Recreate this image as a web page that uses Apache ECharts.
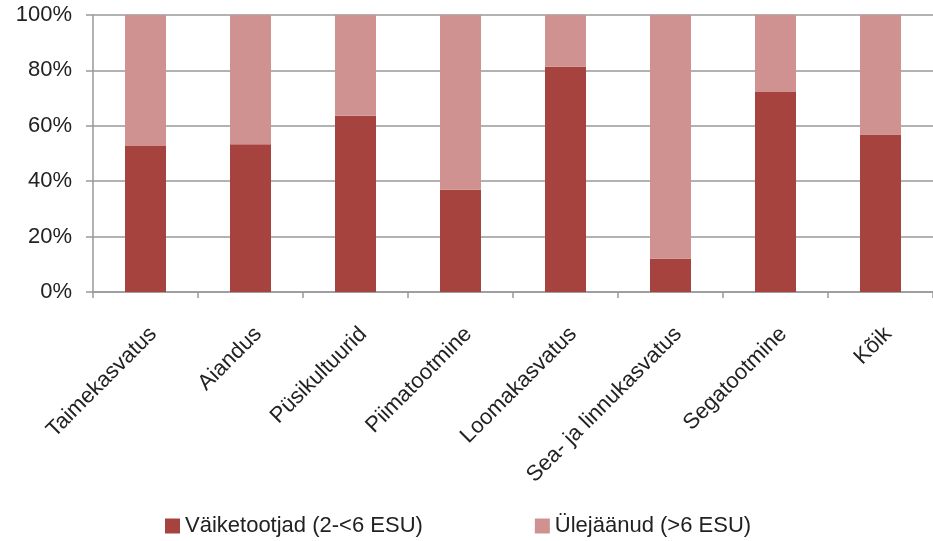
<!DOCTYPE html>
<html><head><meta charset="utf-8">
<script src="https://cdn.jsdelivr.net/npm/echarts@6/dist/echarts.min.js"></script>
<style>html,body{margin:0;padding:0;background:#fff}#c{width:933px;height:541px}</style>
</head><body><div id="c"></div>
<script>
const categories = ['Taimekasvatus','Aiandus','Püsikultuurid','Piimatootmine','Loomakasvatus','Sea- ja linnukasvatus','Segatootmine','Kõik'];
const smallShare = [52.7, 53.3, 63.6, 36.9, 81.3, 12.0, 72.2, 56.9];
const otherShare = smallShare.map(v => +(100 - v).toFixed(1));
const seriesNames = ['Väiketootjad (2-<6 ESU)', 'Ülejäänud (>6 ESU)'];
const yTicks = [0, 20, 40, 60, 80, 100];

const chart = echarts.init(document.getElementById('c'));
const font = 'Liberation Sans, Arial, sans-serif';
chart.setOption({
  animation: false,
  textStyle: {fontFamily: font},
  grid: {left: 93, width: 848, top: 15, height: 277},
  legend: {
    top: 510, left: 160, itemGap: 112, itemWidth: 15, itemHeight: 15, icon: 'rect',
    textStyle: {fontSize: 22, color: '#222', fontFamily: font},
    data: seriesNames
  },
  xAxis: {
    type: 'category', data: categories,
    axisLine: {lineStyle: {color: '#999', width: 1.5}},
    axisTick: {show: true, length: 6, lineStyle: {color: '#999', width: 1.5}},
    axisLabel: {rotate: 45, fontSize: 22, color: '#222', margin: 31, interval: 0, verticalAlign: 'top'}
  },
  yAxis: {
    type: 'value', min: 0, max: 100, interval: 20,
    axisLine: {show: true, lineStyle: {color: '#999', width: 1.5}},
    axisTick: {show: true, length: 7, lineStyle: {color: '#999', width: 1.5}},
    splitLine: {lineStyle: {color: '#999', width: 1.5}},
    axisLabel: {formatter: v => yTicks.includes(v) ? v + '%' : '', fontSize: 22, color: '#222', margin: 21}
  },
  series: [
    {name: seriesNames[0], type: 'bar', stack: 's', data: smallShare, barWidth: 41, itemStyle: {color: '#A6433F'}},
    {name: seriesNames[1], type: 'bar', stack: 's', data: otherShare, barWidth: 41, itemStyle: {color: '#D09191'}}
  ]
});
</script></body></html>
